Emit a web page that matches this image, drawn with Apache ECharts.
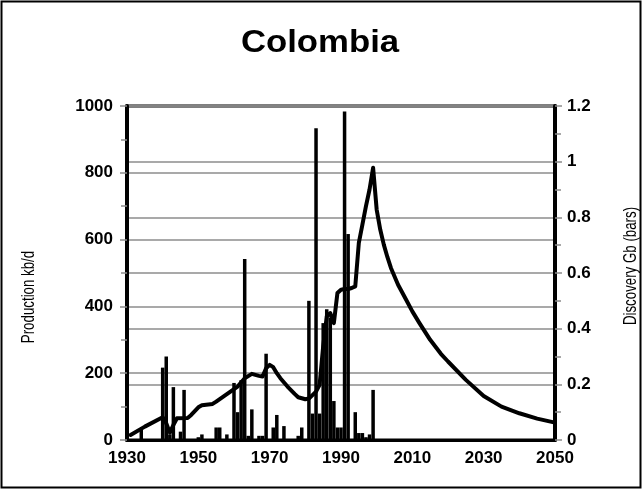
<!DOCTYPE html>
<html>
<head>
<meta charset="utf-8">
<script src="https://cdn.jsdelivr.net/npm/echarts@6/dist/echarts.min.js"></script>
<style>
html,body{margin:0;padding:0;background:#fff;}
#chart{width:643px;height:490px;}
</style>
</head>
<body>
<div id="chart"></div>
<script>
// ---- data ----
const xTicks = [1930, 1950, 1970, 1990, 2010, 2030, 2050];

const discYears  = [1934, 1940, 1941, 1942, 1943, 1945, 1946, 1950, 1951, 1955, 1956, 1958,
                    1960, 1961, 1962, 1963, 1964, 1965, 1967, 1968, 1969, 1971, 1972, 1974,
                    1978, 1979, 1981, 1982, 1983, 1984, 1985, 1986, 1987, 1988, 1989, 1990,
                    1991, 1992, 1994, 1995, 1996, 1997, 1998, 1999];
const discValues = [0.04, 0.26, 0.30, 0.02, 0.19, 0.03, 0.18, 0.01, 0.02, 0.045, 0.045, 0.02,
                    0.205, 0.10, 0.215, 0.65, 0.015, 0.11, 0.015, 0.015, 0.31, 0.045, 0.09, 0.05,
                    0.015, 0.045, 0.50, 0.095, 1.12, 0.095, 0.42, 0.47, 0.44, 0.14, 0.045, 0.045,
                    1.18, 0.74, 0.10, 0.025, 0.025, 0.01, 0.02, 0.18];

const prodYears  = [1931, 1935, 1940, 1941, 1942, 1943, 1944, 1947, 1948, 1950, 1951, 1954,
                    1955, 1957, 1959, 1961, 1963, 1965, 1967, 1968, 1969, 1970, 1971, 1972,
                    1973, 1975, 1977, 1978, 1980, 1981, 1983, 1984, 1985, 1986, 1987, 1988,
                    1989, 1990, 1991, 1992, 1993, 1994, 1995, 1996, 1997, 1998, 1999, 2000,
                    2001, 2002, 2003, 2004, 2006, 2008, 2010, 2012, 2015, 2018, 2020, 2025,
                    2030, 2035, 2040, 2045, 2050];
const prodValues = [15, 40, 68, 50, 22, 45, 65, 66, 75, 98, 104, 108,
                    115, 130, 145, 160, 185, 198, 192, 190, 215, 225, 218, 200,
                    185, 160, 138, 128, 122, 124, 145, 165, 280, 370, 380, 350,
                    440, 450, 452, 452, 455, 460, 590, 645, 700, 750, 815, 690,
                    630, 585, 548, 515, 465, 425, 385, 350, 300, 258, 235, 180,
                    132, 100, 80, 64, 52];

// ---- chart ----
const discData = discYears.map((y, i) => [y, discValues[i]]);
const prodData = prodYears.map((y, i) => [y, prodValues[i]]);

const FONT = '"Liberation Sans", Arial, sans-serif';
const GRID_GREY = '#8c8c8c';

const chart = echarts.init(document.getElementById('chart'), null, {renderer: 'canvas'});
chart.setOption({
  animation: false,
  backgroundColor: '#fff',
  graphic: [
    {type: 'rect', shape: {x: 1.5, y: 1.5, width: 639, height: 486},
     style: {fill: 'none', stroke: '#000', lineWidth: 2}, silent: true},
    {type: 'text', x: 320, y: 43, scaleX: 1.12,
     style: {text: 'Colombia', fontFamily: FONT, fontSize: 31, fontWeight: 'bold', fill: '#000',
             align: 'center', verticalAlign: 'middle'}},
    {type: 'text', x: 29, y: 297, rotation: Math.PI / 2, scaleX: 0.7,
     style: {text: 'Production kb/d', fontFamily: FONT, fontSize: 19, fill: '#000',
             align: 'center', verticalAlign: 'middle'}},
    {type: 'text', x: 631, y: 266, rotation: Math.PI / 2, scaleX: 0.7,
     style: {text: 'Discovery Gb (bars)', fontFamily: FONT, fontSize: 19, fill: '#000',
             align: 'center', verticalAlign: 'middle'}}
  ],
  grid: {left: 127, right: 88, top: 106, bottom: 50, show: true,
         borderColor: '#000', borderWidth: 3, backgroundColor: 'transparent'},
  xAxis: {
    type: 'value', min: xTicks[0], max: xTicks[xTicks.length - 1], interval: 20,
    axisLine: {show: true, lineStyle: {color: '#000', width: 3}},
    axisTick: {show: false},
    splitLine: {show: false},
    axisLabel: {fontFamily: FONT, fontSize: 17, fontWeight: 'bold', color: '#000', margin: 10,
                formatter: v => String(v)}
  },
  yAxis: [
    {
      type: 'value', min: 0, max: 1000, interval: 200, position: 'left',
      axisLine: {show: true, lineStyle: {color: '#000', width: 4}},
      axisTick: {show: true, length: 7, lineStyle: {color: GRID_GREY, width: 1.5}},
      minorTick: {show: true, splitNumber: 2, length: 6, lineStyle: {color: GRID_GREY, width: 1.5}},
      splitLine: {show: true, lineStyle: {color: GRID_GREY, width: 1.5}},
      axisLabel: {fontFamily: FONT, fontSize: 17, fontWeight: 'bold', color: '#000', margin: 14,
                  formatter: v => String(v)}
    },
    {
      type: 'value', min: 0, max: 1.2, interval: 0.2, position: 'right',
      axisLine: {show: true, lineStyle: {color: '#000', width: 4}},
      axisTick: {show: true, length: 7, lineStyle: {color: GRID_GREY, width: 1.5}},
      minorTick: {show: true, splitNumber: 2, length: 6, lineStyle: {color: GRID_GREY, width: 1.5}},
      splitLine: {show: true, lineStyle: {color: GRID_GREY, width: 1.5}},
      axisLabel: {fontFamily: FONT, fontSize: 17, fontWeight: 'bold', color: '#000', margin: 12,
                  formatter: v => String(Math.round(v * 10) / 10)}
    }
  ],
  series: [
    {
      name: 'Discovery', type: 'bar', yAxisIndex: 1, data: discData,
      barWidth: 3.5, itemStyle: {color: '#000'}, z: 2
    },
    {
      name: 'Production', type: 'line', yAxisIndex: 0, data: prodData,
      showSymbol: false, symbol: 'none', smooth: false,
      lineStyle: {color: '#000', width: 4, join: 'round', cap: 'round'}, z: 3
    }
  ]
});
</script>
</body>
</html>
